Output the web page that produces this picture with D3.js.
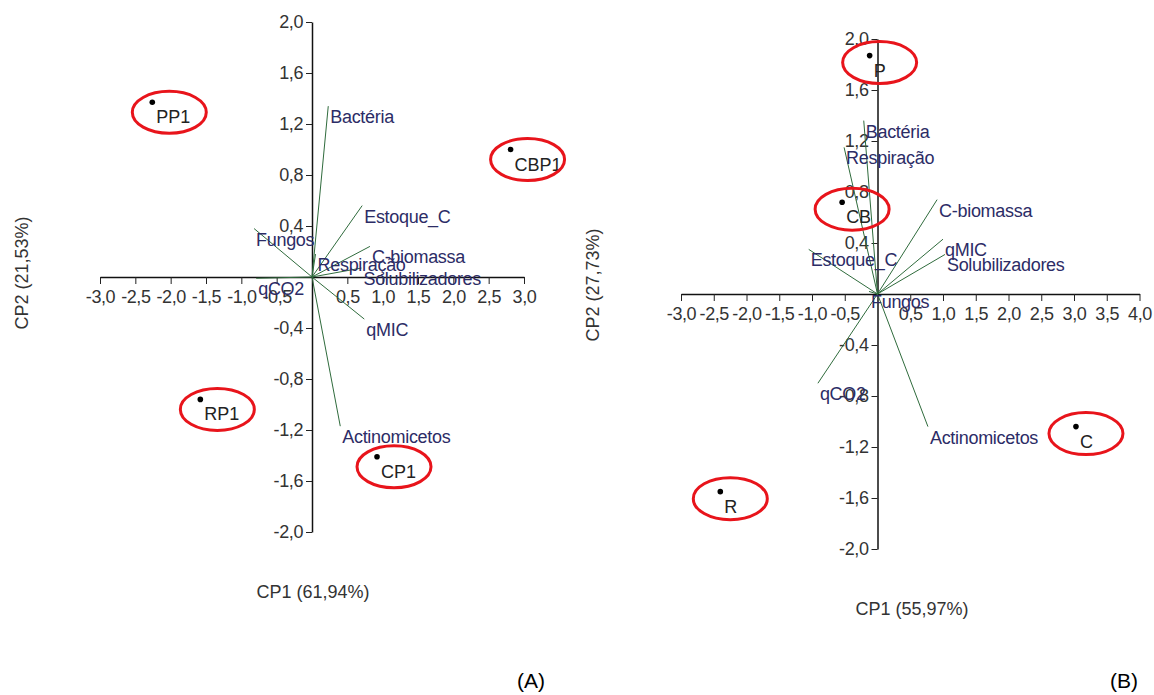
<!DOCTYPE html>
<html>
<head>
<meta charset="utf-8">
<script src="https://cdn.jsdelivr.net/npm/d3@7"></script>
<style>
  body { margin: 0; background: #fff; }
  svg text { font-family: "Liberation Sans", Arial, sans-serif; }
</style>
</head>
<body>
<svg id="chart" width="1154" height="695"></svg>
<script>
// panel A
const varsA = ["Bactéria", "Estoque_C", "Fungos", "Respiração", "C-biomassa", "Solubilizadores", "qCO2", "qMIC", "Actinomicetos"];
const vecXA = [0.23, 0.71, -0.82, 0.05, 0.82, 0.70, -0.79, 0.74, 0.40];
const vecYA = [1.34, 0.56, 0.38, 0.18, 0.24, 0.07, -0.01, -0.33, -1.17];
const ptsA = ["PP1", "CBP1", "RP1", "CP1"];
const ptXA = [-2.26, 2.81, -1.58, 0.92];
const ptYA = [1.37, 1.00, -0.96, -1.41];

// panel B
const varsB = ["Bactéria", "Respiração", "C-biomassa", "qMIC", "Solubilizadores", "Estoque_C", "Fungos", "qCO2", "Actinomicetos"];
const vecXB = [-0.21, -0.51, 0.91, 1.00, 1.03, -1.05, -0.13, -0.91, 0.77];
const vecYB = [1.36, 1.15, 0.74, 0.43, 0.31, 0.35, 0.02, -0.70, -1.04];
const ptsB = ["P", "CB", "C", "R"];
const ptXB = [-0.12, -0.54, 3.03, -2.40];
const ptYB = [1.87, 0.72, -1.04, -1.55];

const xTicksA = [-3, -2.5, -2, -1.5, -1, -0.5, 0.5, 1, 1.5, 2, 2.5, 3];
const xTicksB = [-3, -2.5, -2, -1.5, -1, -0.5, 0.5, 1, 1.5, 2, 2.5, 3, 3.5, 4];
const yTicks = [-2, -1.6, -1.2, -0.8, -0.4, 0.4, 0.8, 1.2, 1.6, 2];

const fmt = d => d3.format(".1f")(d).replace(".", ",").replace("−", "-");
const svg = d3.select("#chart");

function panel(o) {
  const x = d3.scaleLinear().domain(o.xDom).range(o.xRange);
  const y = d3.scaleLinear().domain([-2, 2]).range(o.yRange);
  const g = svg.append("g");

  // axes crossing at origin
  const ax = g.append("g")
    .attr("transform", `translate(0,${y(0)})`)
    .call(d3.axisBottom(x).tickValues(o.xTicks).tickFormat(fmt).tickSize(7).tickSizeOuter(0).tickPadding(6));
  const ay = g.append("g")
    .attr("transform", `translate(${x(0)},0)`)
    .call(d3.axisLeft(y).tickValues(yTicks).tickFormat(fmt).tickSize(6).tickSizeOuter(0).tickPadding(3));
  [ax, ay].forEach(a => {
    a.select(".domain").attr("stroke", "#111").attr("stroke-width", 1.5);
    a.selectAll(".tick line").attr("stroke", "#222");
    a.selectAll(".tick text").attr("fill", "#333").style("font-size", "18px").style("letter-spacing", "-0.4px");
  });

  // loading vectors
  const vec = o.vars.map((v, i) => ({name: v, x: o.vx[i], y: o.vy[i]}));
  g.selectAll("line.vec").data(vec).enter().append("line")
    .attr("x1", x(0)).attr("y1", y(0))
    .attr("x2", d => x(d.x)).attr("y2", d => y(d.y))
    .attr("stroke", "#2f6b3c").attr("stroke-width", 1);
  g.selectAll("text.vec").data(vec).enter().append("text")
    .attr("x", d => x(d.x) + 2).attr("y", d => y(d.y) + 17)
    .attr("fill", "#2c2c66").style("font-size", "18px").style("letter-spacing", "-0.3px")
    .text(d => d.name);

  // scores
  const pts = o.pts.map((p, i) => ({name: p, x: o.px[i], y: o.py[i]}));
  g.selectAll("circle.pt").data(pts).enter().append("circle")
    .attr("cx", d => x(d.x)).attr("cy", d => y(d.y)).attr("r", 2.8).attr("fill", "#000");
  g.selectAll("text.pt").data(pts).enter().append("text")
    .attr("x", d => x(d.x) + 4).attr("y", d => y(d.y) + 21)
    .attr("fill", "#222").style("font-size", "18px")
    .text(d => d.name);
  g.selectAll("ellipse").data(pts).enter().append("ellipse")
    .attr("cx", d => x(d.x) + o.ex).attr("cy", d => y(d.y) + o.ey)
    .attr("rx", 37).attr("ry", 21)
    .attr("fill", "none").attr("stroke", "#e8141b").attr("stroke-width", 3);

  // axis titles
  g.append("text").attr("x", o.xt[0]).attr("y", o.xt[1]).attr("text-anchor", "middle")
    .attr("fill", "#333").style("font-size", "18px").text(o.xTitle);
  g.append("text").attr("transform", `translate(${o.yt[0]},${o.yt[1]}) rotate(-90)`)
    .attr("text-anchor", "middle").attr("fill", "#333").style("font-size", "18px").text(o.yTitle);
  g.append("text").attr("x", o.tag[0]).attr("y", o.tag[1]).attr("text-anchor", "middle")
    .attr("fill", "#000").style("font-size", "21px").text(o.tagText);
}

panel({
  xDom: [-3, 3], xRange: [100, 524], yRange: [532, 22], xTicks: xTicksA,
  vars: varsA, vx: vecXA, vy: vecYA, pts: ptsA, px: ptXA, py: ptYA,
  ex: 17, ey: 10,
  xTitle: "CP1 (61,94%)", xt: [313, 598], yTitle: "CP2 (21,53%)", yt: [28, 273],
  tag: [531, 688], tagText: "(A)"
});

panel({
  xDom: [-3, 4], xRange: [681, 1139.5], yRange: [549, 39], xTicks: xTicksB,
  vars: varsB, vx: vecXB, vy: vecYB, pts: ptsB, px: ptXB, py: ptYB,
  ex: 10, ey: 7,
  xTitle: "CP1 (55,97%)", xt: [912, 615], yTitle: "CP2 (27,73%)", yt: [599, 285],
  tag: [1124, 688], tagText: "(B)"
});
</script>
</body>
</html>
